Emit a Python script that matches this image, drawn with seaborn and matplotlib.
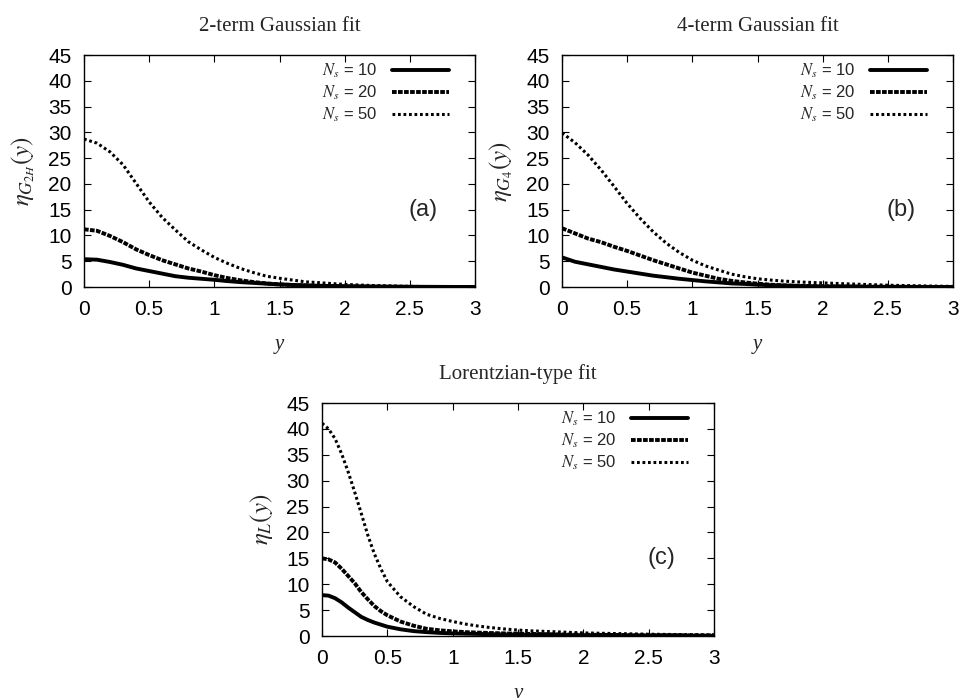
import numpy as np
import pandas as pd
import matplotlib
matplotlib.use("Agg")
import matplotlib.pyplot as plt
import seaborn as sns

# ---- data ----
x_ab = [0, 0.1, 0.2, 0.3, 0.4, 0.5, 0.6, 0.7, 0.8, 0.9, 1.0, 1.1, 1.2, 1.3, 1.4,
        1.5, 1.6, 1.7, 1.8, 2.0, 2.2, 2.5, 2.8, 3.0]

a_n10 = [5.4, 5.3, 4.85, 4.3, 3.6, 3.1, 2.6, 2.1, 1.8, 1.6, 1.4, 1.15, 0.95, 0.8, 0.65,
         0.5, 0.4, 0.32, 0.25, 0.15, 0.1, 0.05, 0.02, 0.0]
a_n20 = [11.2, 10.9, 9.9, 8.7, 7.3, 6.2, 5.2, 4.4, 3.6, 3.0, 2.3, 1.75, 1.3, 0.97, 0.7,
         0.5, 0.4, 0.3, 0.2, 0.1, 0.06, 0.02, 0.01, 0.0]
a_n50 = [28.7, 27.9, 26.2, 23.7, 20.1, 16.5, 13.5, 11.1, 8.8, 7.2, 5.75, 4.6, 3.6, 2.8, 2.1,
         1.7, 1.35, 1.0, 0.85, 0.5, 0.3, 0.12, 0.06, 0.05]

b_n10 = [5.75, 4.9, 4.4, 3.9, 3.4, 3.0, 2.6, 2.2, 1.9, 1.6, 1.35, 1.1, 0.9, 0.7, 0.6,
         0.45, 0.35, 0.27, 0.2, 0.1, 0.06, 0.03, 0.01, 0.0]
b_n20 = [11.4, 10.4, 9.4, 8.7, 7.8, 7.0, 6.1, 5.2, 4.4, 3.6, 2.8, 2.2, 1.6, 1.2, 0.9,
         0.65, 0.45, 0.33, 0.25, 0.15, 0.1, 0.05, 0.02, 0.0]
b_n50 = [29.9, 28.0, 25.6, 22.7, 19.5, 16.2, 13.3, 10.7, 8.5, 6.7, 5.2, 4.1, 3.3, 2.5, 2.0,
         1.6, 1.35, 1.15, 1.0, 0.8, 0.6, 0.35, 0.2, 0.12]

x_c = [0, 0.05, 0.1, 0.15, 0.2, 0.25, 0.3, 0.35, 0.4, 0.45, 0.5, 0.6, 0.7, 0.8, 0.9,
       1.0, 1.1, 1.2, 1.3, 1.4, 1.5, 1.6, 1.8, 2.0, 2.5, 3.0]
c_n10 = [7.9, 7.8, 7.3, 6.5, 5.5, 4.6, 3.7, 3.1, 2.6, 2.2, 1.8, 1.3, 0.95, 0.75, 0.6,
         0.5, 0.45, 0.4, 0.35, 0.3, 0.28, 0.25, 0.2, 0.15, 0.1, 0.05]
c_n20 = [15.0, 14.8, 14.2, 13.0, 11.6, 10.2, 8.5, 7.1, 5.8, 4.8, 4.0, 2.8, 2.0, 1.4, 1.1,
         0.9, 0.75, 0.65, 0.57, 0.5, 0.45, 0.4, 0.32, 0.25, 0.15, 0.1]
c_n50 = [41.1, 40.0, 38.1, 35.2, 31.7, 27.8, 23.7, 19.5, 15.9, 13.0, 10.5, 7.6, 5.7, 4.2, 3.4,
         2.8, 2.3, 1.9, 1.6, 1.35, 1.15, 1.0, 0.8, 0.6, 0.35, 0.2]

series_labels = [r"$N_s$ = 10", r"$N_s$ = 20", r"$N_s$ = 50"]
titles = ["2-term Gaussian fit", "4-term Gaussian fit", "Lorentzian-type fit"]
ylabels = [r"$\eta_{G_{2H}}(y)$", r"$\eta_{G_4}(y)$", r"$\eta_L(y)$"]
panel_tags = ["(a)", "(b)", "(c)"]
x_ticks = [0, 0.5, 1, 1.5, 2, 2.5, 3]
x_ticklabels = ["0", "0.5", "1", "1.5", "2", "2.5", "3"]
y_ticks = [0, 5, 10, 15, 20, 25, 30, 35, 40, 45]

# ---- style ----
sns.set_theme(style="ticks")
plt.rcParams["font.family"] = ["Liberation Sans", "DejaVu Sans"]
plt.rcParams["mathtext.fontset"] = "stix"
plt.rcParams["xtick.direction"] = "in"
plt.rcParams["ytick.direction"] = "in"

fig = plt.figure(figsize=(9.61, 6.98), dpi=100)
positions = [
    [0.0874, 0.5888, 0.4069, 0.3324],
    [0.5848, 0.5888, 0.4069, 0.3324],
    [0.3351, 0.0888, 0.4079, 0.3338],
]

styles = [
    dict(linestyle="-", linewidth=2.8),
    dict(linestyle=(0, (1.2, 0.35)), linewidth=2.8),
    dict(linestyle=(0, (0.9, 0.9)), linewidth=2.2),
]

datasets = [
    (x_ab, [a_n10, a_n20, a_n50]),
    (x_ab, [b_n10, b_n20, b_n50]),
    (x_c, [c_n10, c_n20, c_n50]),
]

for i, (xs, ys_list) in enumerate(datasets):
    ax = fig.add_axes(positions[i])
    for lab, ys, st in zip(series_labels, ys_list, styles):
        df = pd.DataFrame({"y": xs, "eta": ys})
        sns.lineplot(data=df, x="y", y="eta", ax=ax, color="black", label=lab,
                     **st)
    ax.set_xlim(0, 3)
    ax.set_ylim(0, 45)
    ax.set_xticks(x_ticks)
    ax.set_xticklabels(x_ticklabels)
    ax.set_yticks(y_ticks)
    ax.tick_params(axis="both", which="major", labelsize=15, length=5, width=0.8,
                   top=True, right=True, pad=9, colors="black")
    for sp in ax.spines.values():
        sp.set_visible(True)
        sp.set_linewidth(1.0)
        sp.set_color("black")
    ax.set_title(titles[i], fontsize=15, family="Liberation Serif", pad=17)
    ax.set_xlabel("y", fontsize=15, family="Liberation Serif", style="italic",
                  labelpad=12)
    ax.set_ylabel(ylabels[i], fontsize=18, labelpad=8)
    ax.text(2.6, 15, panel_tags[i], fontsize=17, ha="center", va="center")
    ax.legend(loc="upper right", bbox_to_anchor=(0.95, 1.0), frameon=False,
              markerfirst=False, handlelength=3.4, fontsize=12,
              labelspacing=0.22, borderaxespad=0.0, handletextpad=0.9)

fig.savefig("out.png", dpi=100)
